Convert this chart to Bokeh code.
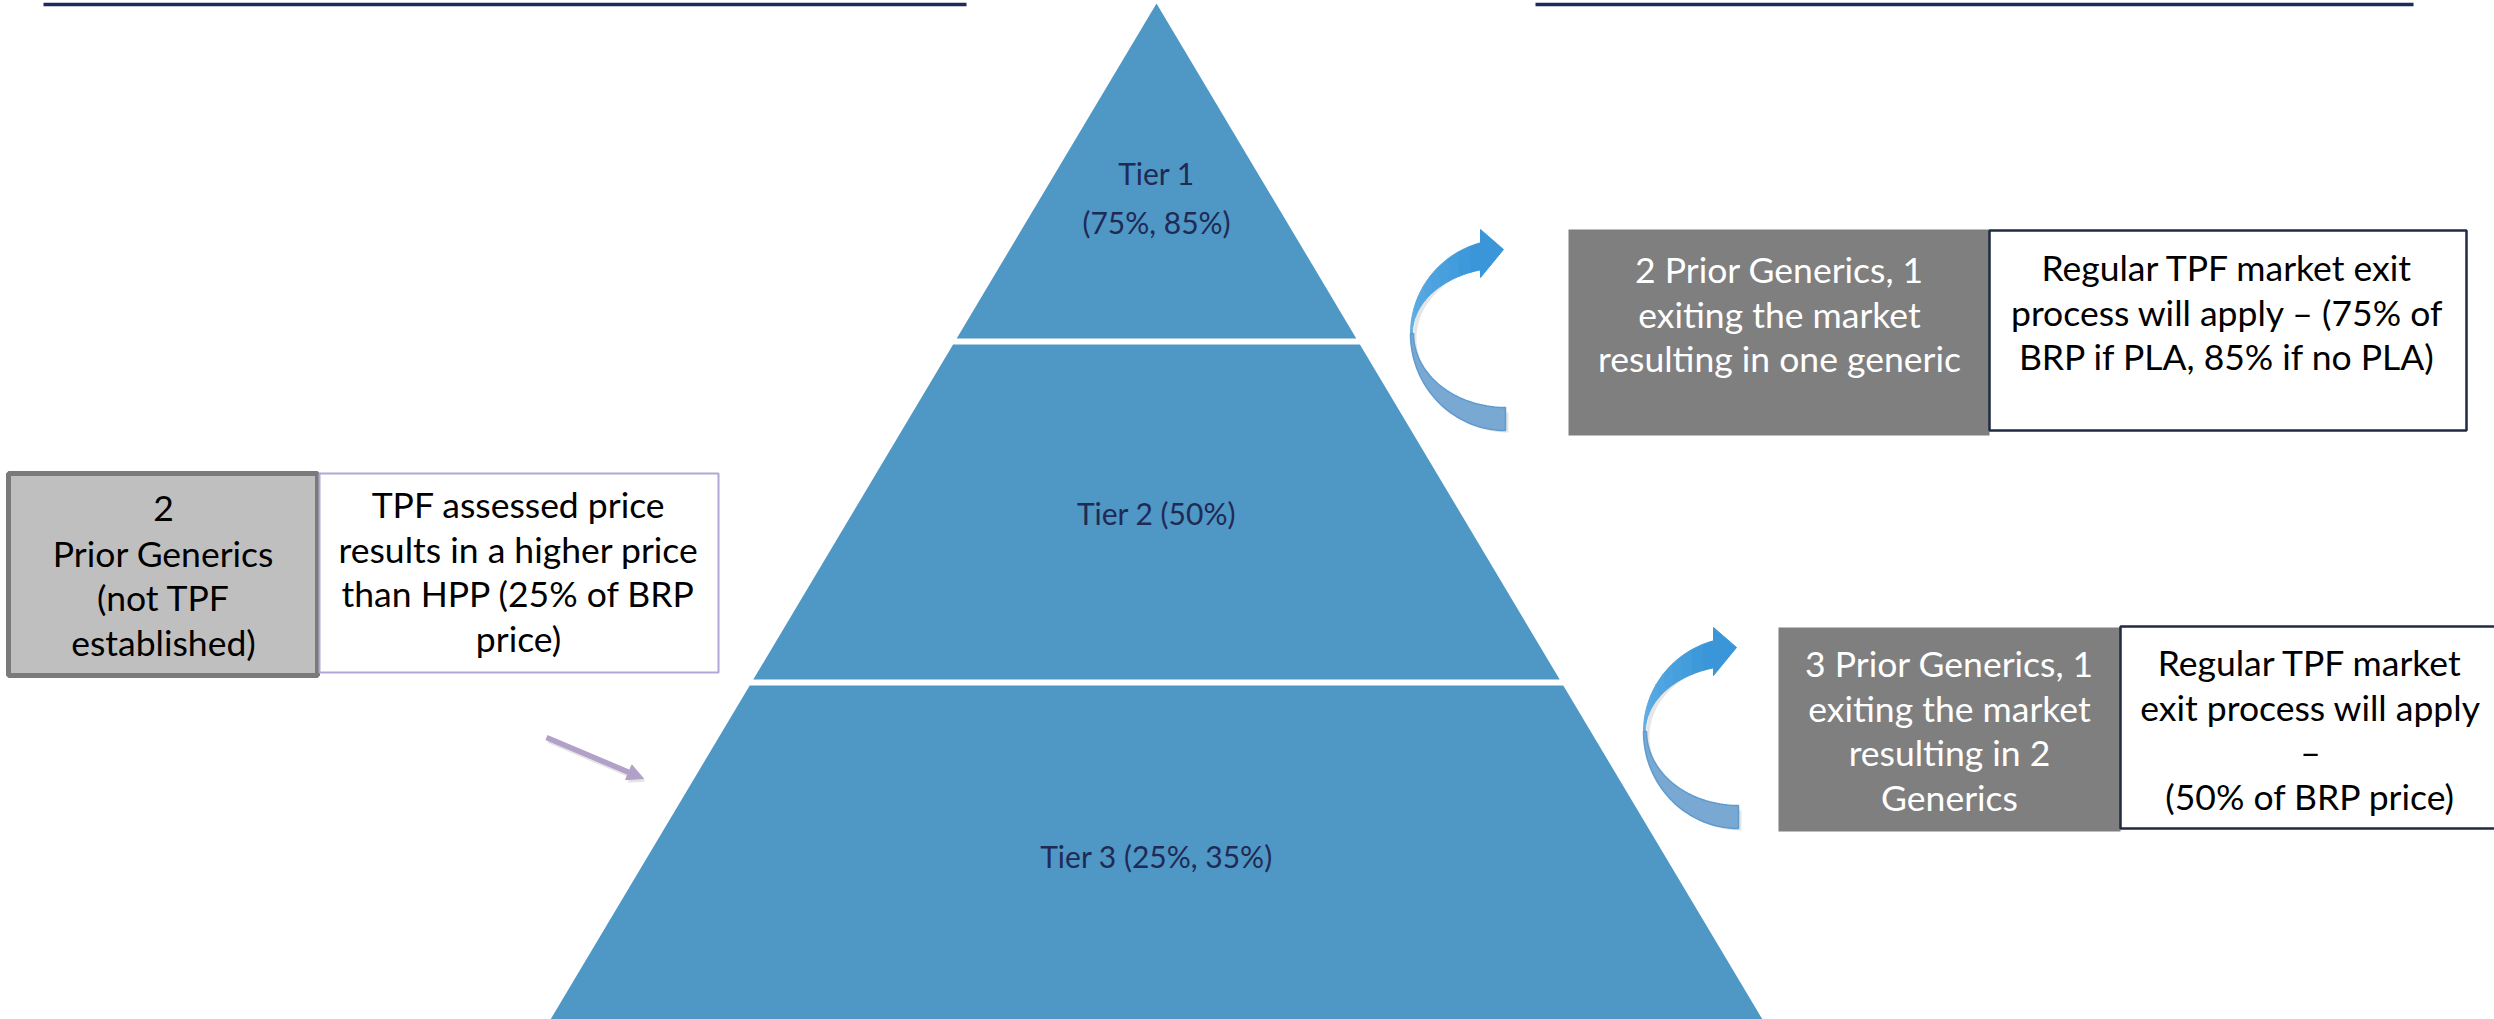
import numpy as np
from bokeh.plotting import figure
from bokeh.models import Range1d, Arrow, NormalHead
from bokeh.embed import file_html
from bokeh.resources import INLINE
from bokeh.core.properties import value

# ---- content -------------------------------------------------------------
tier_names = ["Tier 1", "Tier 2", "Tier 3"]
tier_rates = ["(75%, 85%)", "(50%)", "(25%, 35%)"]

left_key_lines = ["2", "Prior Generics", "(not TPF", "established)"]
left_note_lines = ["TPF assessed price", "results in a higher price",
                   "than HPP (25% of BRP", "price)"]

upper_key_lines = ["2 Prior Generics, 1", "exiting the market",
                   "resulting in one generic"]
upper_note_lines = ["Regular TPF market exit", "process will apply \u2013 (75% of",
                    "BRP if PLA, 85% if no PLA)"]

lower_key_lines = ["3 Prior Generics, 1", "exiting the market",
                   "resulting in 2", "Generics"]
lower_note_lines = ["Regular TPF market", "exit process will apply",
                    "\u2013", "(50% of BRP price)"]

# ---- styling / layout ------------------------------------------------------
W, H = 2494, 1019
FONT = "Lato"
BOX_SIZE = "35.5px"
TIER_SIZE = "30px"
STEP = 44.5
PYR = "#4F97C5"
NAVY = "#1F2A55"

p = figure(width=W, height=H, x_range=Range1d(0, W), y_range=Range1d(H, 0),
           output_backend="svg", toolbar_location=None, min_border=0,
           x_axis_location=None, y_axis_location=None)
p.grid.visible = False
p.outline_line_color = None
p.background_fill_color = "white"
p.border_fill_color = "white"

# header underlines
p.segment(x0=[43, 1535], y0=[4, 4], x1=[966, 2413], y1=[4, 4],
          line_color="#1F2A5A", line_width=3.5)

# ---- pyramid -------------------------------------------------------------
apex_x, apex_y, base_y, base_half = 1156, 3, 1019, 606
k = base_half / (base_y - apex_y)
bands = [(apex_y, 338), (344, 679), (685, base_y)]
xs, ys = [], []
for top, bot in bands:
    ht = (top - apex_y) * k
    hb = (bot - apex_y) * k
    xs.append([apex_x - ht, apex_x + ht, apex_x + hb, apex_x - hb])
    ys.append([top, top, bot, bot])
p.patches(xs, ys, fill_color=PYR, line_color=None)

def lines_at(lines, cx, y0, color, size, step=STEP):
    p.text(x=[cx] * len(lines), y=[y0 + i * step for i in range(len(lines))],
           text=lines, text_align="center", text_baseline="middle",
           text_font=value(FONT), text_font_size=size, text_color=color)

lines_at([tier_names[0], tier_rates[0]], apex_x, 172, NAVY, TIER_SIZE, step=49)
lines_at([f"{tier_names[1]} {tier_rates[1]}"], apex_x, 512, NAVY, TIER_SIZE)
lines_at([f"{tier_names[2]} {tier_rates[2]}"], apex_x, 855, NAVY, TIER_SIZE)

# ---- left boxes ----------------------------------------------------------
p.quad(left=[8], right=[317], top=[473], bottom=[675],
       fill_color="#BFBFBF", line_color="#7A7A7A", line_width=5)
p.quad(left=[319], right=[718], top=[473], bottom=[672],
       fill_color="white", line_color="#B4A7D6", line_width=2)
lines_at(left_key_lines, 163, 508, "black", BOX_SIZE)
lines_at(left_note_lines, 518, 504, "black", BOX_SIZE)

# small pointer arrow
p.add_layout(Arrow(x_start=548, y_start=740, x_end=645, y_end=781,
                   line_color="#C8C8C8", line_alpha=0.5, line_width=5,
                   end=NormalHead(size=16, fill_color="#C8C8C8", fill_alpha=0.5,
                                  line_color=None)))
p.add_layout(Arrow(x_start=546, y_start=737, x_end=643, y_end=778,
                   line_color="#B1A0C7", line_width=5.5,
                   end=NormalHead(size=16, fill_color="#B1A0C7",
                                  line_color="#B1A0C7")))

# ---- right boxes ---------------------------------------------------------
p.quad(left=[1568], right=[1989], top=[229], bottom=[435],
       fill_color="#7F7F7F", line_color=None)
p.quad(left=[1989], right=[2466], top=[230], bottom=[430],
       fill_color="white", line_color="#1F2A44", line_width=2.5)
lines_at(upper_key_lines, 1779, 269, "white", BOX_SIZE)
lines_at(upper_note_lines, 2227, 267, "black", BOX_SIZE)

p.quad(left=[1778], right=[2120], top=[627], bottom=[831],
       fill_color="#7F7F7F", line_color=None)
p.quad(left=[2120], right=[2510], top=[626], bottom=[828],
       fill_color="white", line_color="#1F2A44", line_width=2.5)
lines_at(lower_key_lines, 1949, 663, "white", BOX_SIZE)
lines_at(lower_note_lines, 2310, 662, "black", BOX_SIZE)

# ---- curved arrows -------------------------------------------------------
def blend(c0, c1, t):
    a = [int(c0[i:i + 2], 16) for i in (1, 3, 5)]
    b = [int(c1[i:i + 2], 16) for i in (1, 3, 5)]
    return "#" + "".join(f"{round(a[i] + (b[i] - a[i]) * t):02x}" for i in range(3))

def curved_arrow(cx, cy):
    # drop shadow of the whole outline
    th_all = np.radians(np.linspace(255, 90, 60))
    sx = list(cx + 95 * np.cos(th_all)) + list((cx + 92 * np.cos(th_all))[::-1])
    sy = list(cy + 94 * np.sin(th_all)) + list((cy + 74 * np.sin(th_all))[::-1])
    p.patch([x + 3 for x in sx], [y + 5 for y in sy],
            fill_color="#000000", fill_alpha=0.10, line_color=None)

    # front face: shaded from the head towards the bend
    edges = np.radians(np.linspace(255, 180, 11))
    for i in range(len(edges) - 1):
        th = np.linspace(edges[i], edges[i + 1], 6)
        ox, oy = cx + 95 * np.cos(th), cy + 94 * np.sin(th)
        ix, iy = cx + 93 * np.cos(th), cy + 66 * np.sin(th)
        col = blend("#3A96D8", "#62B0E6", i / (len(edges) - 2))
        p.patch(list(ox) + list(ix[::-1]), list(oy) + list(iy[::-1]),
                fill_color=col, line_color=col, line_width=1)

    # back face of the lower half
    th = np.radians(np.linspace(180, 90, 40))
    ox, oy = cx + 95 * np.cos(th), cy + 97 * np.sin(th)
    ix, iy = cx + 92 * np.cos(th), cy + 74 * np.sin(th)
    p.patch(list(ox) + list(ix[::-1]), list(oy) + list(iy[::-1]),
            fill_color="#79A9D2", line_color="#5E9BCF", line_width=1.5)

    # arrow head
    p.patch([cx - 25, cx - 2, cx - 25], [cy - 104, cy - 84, cy - 56],
            fill_color="#3A96D8", line_color="#3A96D8", line_width=1)

curved_arrow(1505, 333)
curved_arrow(1738, 731)

open("out.html", "w").write(file_html(p, INLINE))
